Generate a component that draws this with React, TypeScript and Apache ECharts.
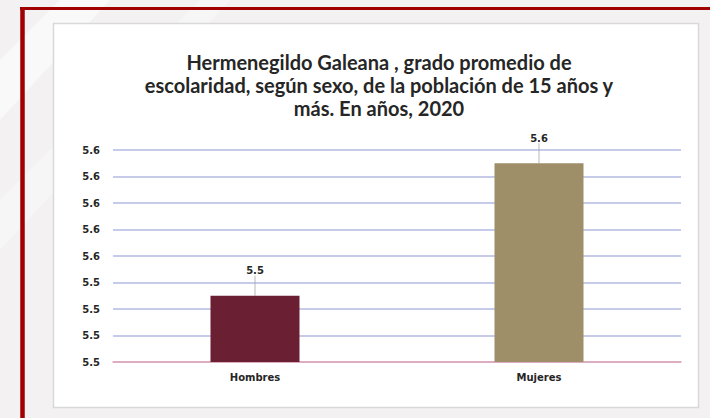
import React, { useEffect, useRef } from "react";
import * as echarts from "echarts";

const categories = ["Hombres", "Mujeres"];
const values = [5.53, 5.63];
const barColors = ["#6B1F33", "#9E8F68"];
const titleLines = [
  "Hermenegildo Galeana , grado promedio de",
  "escolaridad, según sexo, de la población de 15 años y",
  "más. En años, 2020",
];
const yMin = 5.48;
const yMax = 5.64;
const yStep = 0.02;

export default function App() {
  const ref = useRef<HTMLDivElement>(null);
  useEffect(() => {
    document.body.style.margin = "0";
    const chart = echarts.init(ref.current!, null, { renderer: "svg" });
    chart.setOption({
      animation: false,
      backgroundColor: "#F3F1F1",
      title: {
        text: titleLines.join("\n"),
        left: 374,
        top: 45,
        textAlign: "center",
        textStyle: {
          fontFamily: "Lato",
          fontWeight: "bold",
          fontSize: 20,
          lineHeight: 23,
          color: "#262626",
        },
      },
      graphic: [
        {
          type: "polygon",
          z: -20,
          shape: { points: [[0, 60], [60, 0], [110, 0], [0, 120]] },
          style: { fill: "rgba(255,255,255,0.55)" },
        },
        {
          type: "polygon",
          z: -20,
          shape: { points: [[0, 200], [200, 0], [230, 0], [0, 250]] },
          style: { fill: "rgba(255,255,255,0.35)" },
        },
        {
          type: "rect",
          z: -10,
          shape: { x: 53.5, y: 23.5, width: 645, height: 384 },
          style: { fill: "#FFFFFF", stroke: "#D9D9D9", lineWidth: 1.5 },
        },
        {
          type: "line",
          z: -5,
          shape: { x1: 20, y1: 8.5, x2: 710, y2: 8.5 },
          style: { stroke: "#A00000", lineWidth: 3 },
        },
        {
          type: "line",
          z: -5,
          shape: { x1: 22.5, y1: 7, x2: 22.5, y2: 418 },
          style: { stroke: "#A00000", lineWidth: 4.5 },
        },
      ],
      grid: { left: 113, right: 29, top: 150, bottom: 56, containLabel: false },
      xAxis: {
        type: "category",
        data: categories,
        axisTick: { show: false },
        axisLine: { show: true, lineStyle: { color: "#E3A3B3", width: 1.5 } },
        axisLabel: {
          margin: 10,
          fontFamily: "DejaVu Sans",
          fontWeight: "bold",
          fontSize: 10,
          color: "#262626",
        },
      },
      yAxis: {
        type: "value",
        min: yMin,
        max: yMax,
        interval: yStep,
        axisLine: { show: false },
        axisTick: { show: false },
        splitLine: { lineStyle: { color: "#B2BAE2", width: 1.5 } },
        axisLabel: {
          margin: 13,
          fontFamily: "DejaVu Sans",
          fontWeight: "bold",
          fontSize: 10,
          color: "#262626",
          formatter: (v: number) => v.toFixed(1),
        },
      },
      series: [
        {
          type: "bar",
          barWidth: 89,
          data: values.map((v, i) => ({ value: v, itemStyle: { color: barColors[i] } })),
          label: {
            show: true,
            position: "top",
            distance: 5,
            fontFamily: "DejaVu Sans",
            fontWeight: "bold",
            fontSize: 10,
            color: "#262626",
            formatter: (p: any) => Number(p.value).toFixed(1),
          },
          labelLayout: { dy: -15 },
          labelLine: { show: true, lineStyle: { color: "#A6A6A6", width: 0.8 } },
        },
      ],
    });
    return () => chart.dispose();
  }, []);
  return <div ref={ref} style={{ position: "fixed", left: 0, top: 0, width: 710, height: 418 }} />;
}
